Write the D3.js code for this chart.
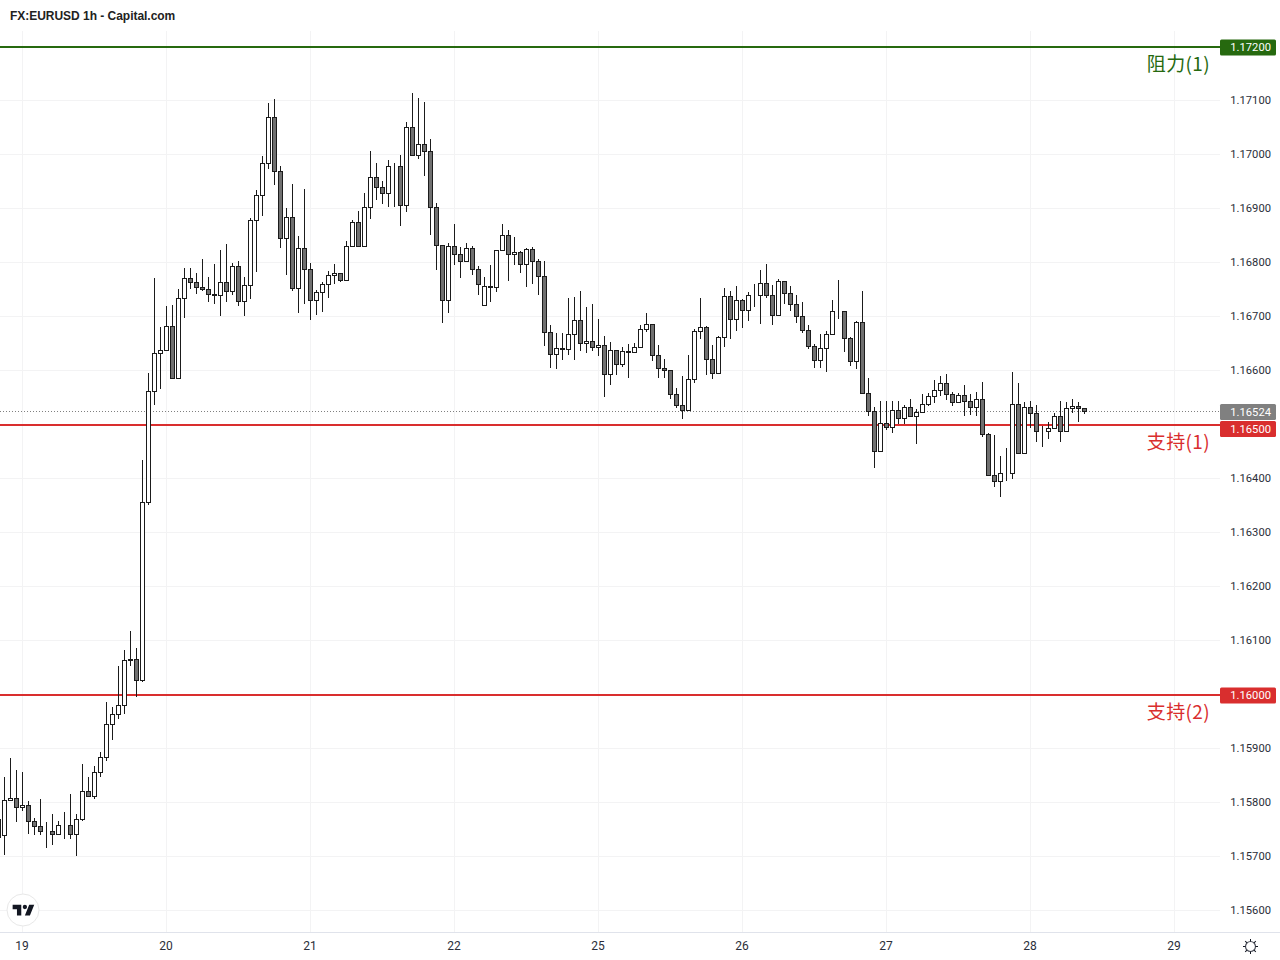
<!DOCTYPE html>
<html>
<head>
<meta charset="utf-8">
<script src="https://cdnjs.cloudflare.com/ajax/libs/d3/7.8.5/d3.min.js"></script>
<style>
html,body{margin:0;padding:0;background:#fff;overflow:hidden}
svg{display:block}
text{font-family:"Liberation Sans",Arial,sans-serif}
</style>
</head>
<body>
<svg id="c" width="1280" height="960"></svg>
<script>
const title = "FX:EURUSD 1h - Capital.com";
const opens = [
1.15769,1.15739,1.15803,1.15808,1.15790,1.15795,1.15765,1.15756,1.15747,1.15747,
1.15741,1.15758,1.15758,1.15741,1.15769,1.15821,1.15811,1.15856,1.15884,1.15945,
1.15963,1.15980,1.16065,1.16065,1.16026,1.16355,1.16561,1.16632,1.16637,1.16682,
1.16586,1.16733,1.16771,1.16763,1.16754,1.16750,1.16741,1.16739,1.16763,1.16746,
1.16793,1.16728,1.16758,1.16878,1.16924,1.16984,1.17069,1.16969,1.16845,1.16884,
1.16752,1.16826,1.16787,1.16730,1.16745,1.16760,1.16776,1.16780,1.16767,1.16830,
1.16874,1.16830,1.16902,1.16958,1.16939,1.16928,1.16978,1.16978,1.16906,1.17050,
1.16999,1.17019,1.17006,1.16902,1.16832,1.16730,1.16830,1.16815,1.16802,1.16826,
1.16787,1.16721,1.16756,1.16754,1.16823,1.16850,1.16815,1.16819,1.16797,1.16824,
1.16802,1.16774,1.16671,1.16630,1.16641,1.16639,1.16667,1.16693,1.16650,1.16654,
1.16643,1.16647,1.16593,1.16637,1.16611,1.16636,1.16634,1.16643,1.16676,1.16686,
1.16628,1.16604,1.16600,1.16556,1.16536,1.16526,1.16584,1.16673,1.16680,1.16621,
1.16595,1.16661,1.16737,1.16695,1.16730,1.16711,1.16739,1.16739,1.16762,1.16739,
1.16702,1.16765,1.16743,1.16723,1.16700,1.16674,1.16645,1.16619,1.16641,1.16667,
1.16709,1.16709,1.16660,1.16617,1.16689,1.16558,1.16525,1.16450,1.16502,1.16495,
1.16526,1.16511,1.16532,1.16515,1.16522,1.16537,1.16552,1.16563,1.16576,1.16556,
1.16541,1.16554,1.16543,1.16532,1.16547,1.16482,1.16406,1.16395,1.16410,1.16410,
1.16537,1.16447,1.16532,1.16521,1.16487,1.16487,1.16493,1.16515,1.16487,1.16530,
1.16534,1.16530
];
const highs = [
1.15786,1.15847,1.15882,1.15860,1.15856,1.15803,1.15771,1.15806,1.15763,1.15778,
1.15765,1.15782,1.15815,1.15778,1.15871,1.15847,1.15867,1.15893,1.15986,1.15976,
1.16053,1.16082,1.16117,1.16086,1.16434,1.16595,1.16771,1.16680,1.16719,1.16721,
1.16750,1.16789,1.16789,1.16780,1.16806,1.16773,1.16797,1.16824,1.16834,1.16799,
1.16802,1.16773,1.16882,1.16934,1.16997,1.17095,1.17102,1.16978,1.16900,1.16945,
1.16849,1.16936,1.16799,1.16749,1.16763,1.16784,1.16797,1.16780,1.16839,1.16878,
1.16895,1.16929,1.17006,1.16984,1.16950,1.16989,1.16984,1.17000,1.17061,1.17113,
1.17104,1.17097,1.17028,1.16911,1.16832,1.16837,1.16871,1.16828,1.16837,1.16830,
1.16793,1.16773,1.16795,1.16823,1.16871,1.16861,1.16847,1.16821,1.16826,1.16828,
1.16806,1.16802,1.16684,1.16669,1.16669,1.16734,1.16736,1.16747,1.16717,1.16723,
1.16695,1.16663,1.16652,1.16637,1.16643,1.16649,1.16650,1.16684,1.16706,1.16686,
1.16647,1.16621,1.16600,1.16567,1.16589,1.16628,1.16676,1.16735,1.16682,1.16647,
1.16663,1.16752,1.16747,1.16756,1.16732,1.16745,1.16760,1.16787,1.16797,1.16758,
1.16769,1.16765,1.16756,1.16739,1.16726,1.16684,1.16649,1.16667,1.16674,1.16730,
1.16767,1.16711,1.16662,1.16691,1.16747,1.16587,1.16532,1.16543,1.16543,1.16543,
1.16543,1.16536,1.16548,1.16528,1.16556,1.16559,1.16582,1.16589,1.16593,1.16561,
1.16558,1.16574,1.16556,1.16561,1.16578,1.16484,1.16480,1.16441,1.16456,1.16598,
1.16576,1.16541,1.16543,1.16537,1.16498,1.16504,1.16522,1.16543,1.16541,1.16547,
1.16541,1.16530
];
const lows = [
1.15721,1.15703,1.15803,1.15763,1.15785,1.15742,1.15740,1.15739,1.15716,1.15722,
1.15741,1.15733,1.15733,1.15701,1.15765,1.15810,1.15806,1.15847,1.15877,1.15916,
1.15955,1.15964,1.16053,1.15995,1.16023,1.16351,1.16537,1.16566,1.16637,1.16584,
1.16586,1.16698,1.16750,1.16742,1.16748,1.16726,1.16724,1.16700,1.16727,1.16740,
1.16720,1.16701,1.16733,1.16783,1.16887,1.16973,1.16943,1.16826,1.16777,1.16747,
1.16707,1.16723,1.16693,1.16702,1.16709,1.16734,1.16760,1.16763,1.16767,1.16830,
1.16830,1.16830,1.16880,1.16915,1.16909,1.16902,1.16902,1.16867,1.16893,1.16999,
1.16991,1.16961,1.16850,1.16787,1.16688,1.16707,1.16796,1.16772,1.16802,1.16777,
1.16739,1.16721,1.16726,1.16746,1.16823,1.16766,1.16795,1.16781,1.16754,1.16760,
1.16740,1.16646,1.16605,1.16603,1.16620,1.16629,1.16620,1.16637,1.16632,1.16637,
1.16627,1.16551,1.16573,1.16592,1.16606,1.16587,1.16634,1.16641,1.16672,1.16618,
1.16587,1.16587,1.16548,1.16531,1.16511,1.16526,1.16576,1.16659,1.16592,1.16584,
1.16595,1.16643,1.16658,1.16673,1.16679,1.16691,1.16717,1.16686,1.16735,1.16684,
1.16702,1.16724,1.16711,1.16688,1.16669,1.16639,1.16605,1.16605,1.16598,1.16667,
1.16695,1.16635,1.16609,1.16603,1.16556,1.16515,1.16420,1.16449,1.16489,1.16485,
1.16500,1.16500,1.16515,1.16463,1.16522,1.16535,1.16539,1.16552,1.16545,1.16534,
1.16541,1.16516,1.16517,1.16516,1.16476,1.16406,1.16385,1.16366,1.16396,1.16399,
1.16447,1.16445,1.16494,1.16468,1.16459,1.16474,1.16493,1.16468,1.16487,1.16522,
1.16505,1.16519
];
const closes = [
1.15735,1.15804,1.15807,1.15791,1.15795,1.15765,1.15756,1.15747,1.15747,1.15741,
1.15757,1.15758,1.15741,1.15769,1.15821,1.15811,1.15856,1.15884,1.15945,1.15963,
1.15980,1.16063,1.16063,1.16026,1.16355,1.16561,1.16632,1.16637,1.16682,1.16586,
1.16733,1.16771,1.16763,1.16754,1.16750,1.16741,1.16739,1.16763,1.16746,1.16793,
1.16728,1.16758,1.16878,1.16924,1.16984,1.17069,1.16969,1.16845,1.16884,1.16752,
1.16826,1.16787,1.16730,1.16745,1.16760,1.16776,1.16780,1.16767,1.16830,1.16874,
1.16830,1.16902,1.16958,1.16939,1.16928,1.16978,1.16978,1.16906,1.17050,1.16999,
1.17019,1.17006,1.16902,1.16832,1.16730,1.16830,1.16815,1.16802,1.16826,1.16787,
1.16760,1.16756,1.16754,1.16823,1.16850,1.16815,1.16819,1.16797,1.16824,1.16802,
1.16774,1.16671,1.16630,1.16641,1.16639,1.16667,1.16693,1.16650,1.16654,1.16643,
1.16647,1.16593,1.16637,1.16611,1.16636,1.16634,1.16643,1.16676,1.16686,1.16628,
1.16604,1.16600,1.16556,1.16536,1.16526,1.16584,1.16673,1.16680,1.16621,1.16595,
1.16661,1.16737,1.16695,1.16730,1.16711,1.16739,1.16739,1.16762,1.16739,1.16702,
1.16765,1.16743,1.16723,1.16700,1.16674,1.16645,1.16619,1.16641,1.16667,1.16709,
1.16709,1.16660,1.16617,1.16689,1.16558,1.16525,1.16450,1.16502,1.16495,1.16526,
1.16511,1.16532,1.16515,1.16522,1.16537,1.16552,1.16563,1.16576,1.16556,1.16541,
1.16554,1.16543,1.16532,1.16547,1.16482,1.16406,1.16395,1.16410,1.16410,1.16537,
1.16447,1.16532,1.16521,1.16487,1.16487,1.16493,1.16515,1.16487,1.16530,1.16534,
1.16530,1.16524
];
const firstIndex = -1;
const priceTicks = [1.156,1.157,1.158,1.159,1.160,1.161,1.162,1.163,1.164,1.165,1.166,1.167,1.168,1.169,1.170,1.171];
const dayTickIndex = [3,27,51,75,99,123,147,171,195];
const dayTickLabels = ["19","20","21","22","25","26","27","28","29"];
const levelValues = [1.172,1.165,1.160];
const levelNames = ["阻力(1)","支持(1)","支持(2)"];
const levelColors = ["#26690f","#d92e2e","#d92e2e"];
const lastPrice = 1.16524;

const svg = d3.select("#c");
const plotRight = 1220, plotTop = 31, plotBottom = 932;
const x = d3.scaleLinear().domain([0,180]).range([4.5,1084.5]);
const y = d3.scaleLinear().domain([1.156,1.172]).range([910.5,46.5]);
const snap = v => Math.floor(v) + 0.5;
const axisFont = 'Roboto,"Liberation Sans",sans-serif';

// grid
const grid = svg.append("g");
grid.selectAll("line.h").data(priceTicks).join("line").attr("class","h")
  .attr("x1",0).attr("x2",plotRight).attr("y1",d=>y(d)).attr("y2",d=>y(d))
  .attr("stroke","#f3f3f4").attr("stroke-width",1);
grid.selectAll("line.v").data(dayTickIndex).join("line").attr("class","v")
  .attr("x1",d=>x(d)).attr("x2",d=>x(d)).attr("y1",plotTop).attr("y2",plotBottom)
  .attr("stroke","#f3f3f4").attr("stroke-width",1);

// time axis border
svg.append("line").attr("x1",0).attr("x2",1280).attr("y1",932.5).attr("y2",932.5)
  .attr("stroke","#e0e3eb");

// last price dotted line
svg.append("line").attr("x1",0).attr("x2",plotRight).attr("y1",snap(y(lastPrice))).attr("y2",snap(y(lastPrice)))
  .attr("stroke","#808080").attr("stroke-width",1).attr("stroke-dasharray","1 2");

// levels
svg.selectAll("line.lvl").data(levelValues).join("line").attr("class","lvl")
  .attr("x1",0).attr("x2",plotRight).attr("y1",d=>y(d)+0.5).attr("y2",d=>y(d)+0.5)
  .attr("stroke",(d,i)=>levelColors[i]).attr("stroke-width",2);

// candles
const candles = opens.map((o,i)=>({k:i+firstIndex,o,h:highs[i],l:lows[i],c:closes[i]}));
const inkColor = "#1b1b1b";
const g = svg.append("g");
g.selectAll("line.w").data(candles).join("line").attr("class","w")
  .attr("x1",d=>x(d.k)).attr("x2",d=>x(d.k))
  .attr("y1",d=>Math.round(y(d.h))).attr("y2",d=>Math.round(y(d.l)))
  .attr("stroke",inkColor).attr("stroke-width",1);
g.selectAll("rect").data(candles).join("rect")
  .attr("x",d=>x(d.k)-2).attr("width",4)
  .attr("y",d=>snap(y(Math.max(d.o,d.c))))
  .attr("height",d=>Math.max(0,snap(y(Math.min(d.o,d.c)))-snap(y(Math.max(d.o,d.c)))))
  .attr("fill",d=>d.c>=d.o?"#ffffff":"#707070")
  .attr("stroke",inkColor).attr("stroke-width",1);

// price axis (the level prices appear in their own coloured boxes instead)
const axisTicks = priceTicks.filter(t=>!levelValues.includes(t));
const yAxis = d3.axisRight(y).tickValues(axisTicks).tickSize(0).tickPadding(0).tickFormat(d3.format(".5f"));
const ya = svg.append("g").attr("transform","translate(1271,-0.5)").call(yAxis);
ya.select(".domain").remove();
ya.selectAll("text").attr("text-anchor","end").attr("fill","#2a2e39").attr("font-size",11.2).attr("x",0)
  .style("font-family",axisFont);

// time axis
const xAxis = d3.axisBottom(x).tickValues(dayTickIndex).tickSize(0).tickPadding(0)
  .tickFormat((d,i)=>dayTickLabels[i]);
const xa = svg.append("g").attr("transform","translate(-1,941)").call(xAxis);
xa.select(".domain").remove();
xa.selectAll("text").attr("fill","#2a2e39").attr("font-size",12).attr("y",0)
  .style("font-family",axisFont);

// price label boxes
const boxes = [
  {v:levelValues[0],cy:47.5,c:levelColors[0]},
  {v:lastPrice,cy:412,c:"#808080"},
  {v:levelValues[1],cy:429,c:levelColors[1]},
  {v:levelValues[2],cy:695.5,c:levelColors[2]}
];
const bg = svg.append("g");
bg.selectAll("rect").data(boxes).join("rect")
  .attr("x",1220).attr("width",56).attr("y",d=>d.cy-8).attr("height",16).attr("rx",1.5)
  .attr("fill",d=>d.c);
bg.selectAll("text").data(boxes).join("text")
  .attr("x",1271).attr("y",d=>d.cy+3.7).attr("text-anchor","end")
  .attr("fill","#fff").attr("font-size",11.2)
  .style("font-family",axisFont)
  .text(d=>d3.format(".5f")(d.v));

// level names
svg.selectAll("text.nm").data(levelValues).join("text").attr("class","nm")
  .attr("x",1210).attr("y",d=>y(d)+24).attr("text-anchor","end")
  .attr("font-size",19).attr("letter-spacing",0.35).attr("fill",(d,i)=>levelColors[i])
  .style("font-family",'"Noto Sans CJK SC","Noto Sans",sans-serif')
  .text((d,i)=>levelNames[i]);

// title
svg.append("text").attr("x",10).attr("y",20).attr("font-size",12).attr("font-weight",700)
  .attr("letter-spacing",-0.03).attr("fill","#222").text(title);

// logo
const logo = svg.append("g");
logo.append("circle").attr("cx",23).attr("cy",910).attr("r",16).attr("fill","#fff").attr("stroke","#e8e8e8").attr("stroke-width",1);
logo.append("path").attr("transform","translate(11.2,900.5) scale(0.72)")
  .attr("d","M14 6H2v6h6v9h6V6zm12 15h-7l6-15h7l-6 15zm-7-9a3 3 0 1 0 0-6 3 3 0 0 0 0 6z")
  .attr("fill","#131722");

// settings icon
const gear = svg.append("g").attr("transform","translate(1250.5,946.5)");
gear.append("circle").attr("r",5).attr("fill","none").attr("stroke","#50535e").attr("stroke-width",1.2);
gear.selectAll("line").data(d3.range(0,360,45)).join("line")
  .attr("x1",0).attr("x2",0).attr("y1",-5).attr("y2",-7.5)
  .attr("transform",d=>`rotate(${d})`)
  .attr("stroke","#131722").attr("stroke-width",1);
</script>
</body>
</html>
